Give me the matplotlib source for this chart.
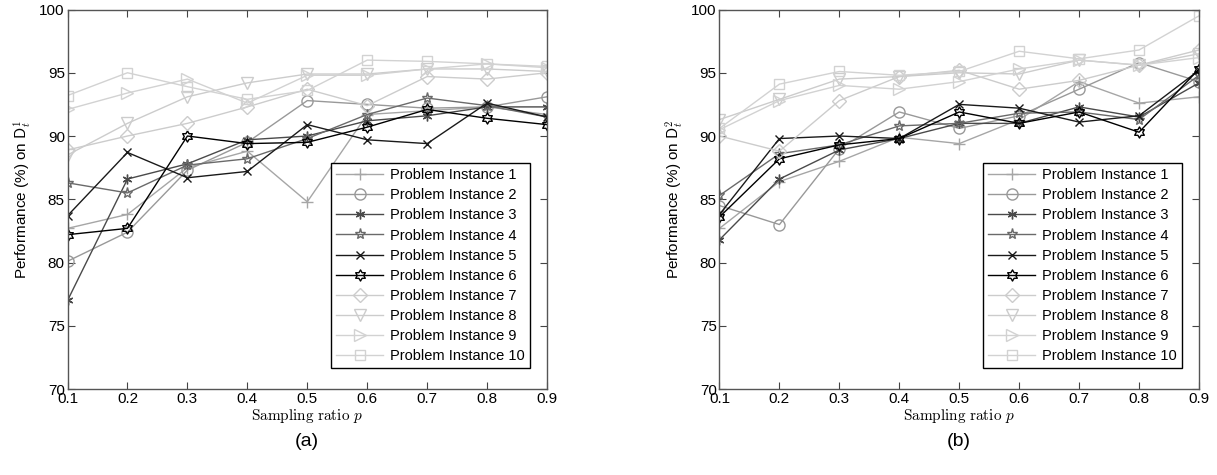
import numpy as np
import matplotlib.pyplot as plt
from matplotlib.path import Path

plt.rcParams['font.family'] = ['Liberation Sans', 'DejaVu Sans']
plt.rcParams['mathtext.fontset'] = 'cm'

p = [0.1, 0.2, 0.3, 0.4, 0.5, 0.6, 0.7, 0.8, 0.9]
names = ['Problem Instance %d' % i for i in range(1, 11)]

# (a) performance on D_t^1
perf_a1 = [82.7, 83.8, 87.5, 88.8, 84.8, 91.7, 92.0, 92.3, 91.7]
perf_a2 = [80.1, 82.4, 87.3, 89.5, 92.8, 92.5, 92.2, 92.3, 93.1]
perf_a3 = [77.0, 86.6, 87.8, 89.7, 90.0, 91.2, 91.6, 92.3, 92.3]
perf_a4 = [86.3, 85.5, 87.7, 88.2, 89.8, 91.7, 93.0, 92.4, 91.5]
perf_a5 = [83.7, 88.7, 86.7, 87.2, 90.9, 89.7, 89.4, 92.6, 91.5]
perf_a6 = [82.2, 82.7, 90.0, 89.4, 89.5, 90.7, 92.1, 91.4, 90.9]
perf_a7 = [88.9, 90.0, 91.0, 92.3, 93.7, 92.4, 94.7, 94.5, 95.0]
perf_a8 = [88.5, 91.0, 93.1, 94.2, 94.9, 94.9, 95.3, 95.3, 95.1]
perf_a9 = [92.1, 93.4, 94.5, 92.6, 94.8, 94.8, 95.3, 95.7, 95.4]
perf_a10 = [93.2, 95.0, 93.9, 92.9, 93.6, 96.0, 95.9, 95.7, 95.5]

# (b) performance on D_t^2
perf_b1 = [82.7, 86.4, 88.0, 89.9, 89.4, 91.3, 94.3, 92.6, 93.1]
perf_b2 = [84.5, 83.0, 89.0, 91.9, 90.6, 91.6, 93.7, 95.8, 94.3]
perf_b3 = [81.8, 86.6, 88.9, 89.8, 91.0, 91.0, 92.3, 91.5, 94.2]
perf_b4 = [85.3, 88.6, 89.3, 90.8, 91.0, 91.8, 91.9, 91.3, 94.8]
perf_b5 = [83.8, 89.8, 90.0, 89.8, 92.5, 92.2, 91.1, 91.6, 95.2]
perf_b6 = [83.6, 88.2, 89.3, 89.8, 91.9, 91.0, 91.9, 90.3, 95.3]
perf_b7 = [90.0, 88.8, 92.8, 94.7, 95.2, 93.7, 94.4, 95.6, 96.8]
perf_b8 = [91.3, 92.9, 94.5, 94.7, 95.0, 94.9, 96.0, 95.6, 96.5]
perf_b9 = [90.5, 92.8, 94.0, 93.7, 94.3, 95.3, 96.0, 95.6, 96.2]
perf_b10 = [90.6, 94.1, 95.1, 94.8, 95.1, 96.7, 96.1, 96.8, 99.5]

data_a = [perf_a1, perf_a2, perf_a3, perf_a4, perf_a5, perf_a6, perf_a7, perf_a8, perf_a9, perf_a10]
data_b = [perf_b1, perf_b2, perf_b3, perf_b4, perf_b5, perf_b6, perf_b7, perf_b8, perf_b9, perf_b10]

# hexagram marker
v = []
for i in range(6):
    a = np.pi / 2 + i * np.pi / 3
    v.append((np.cos(a), np.sin(a)))
    a2 = a + np.pi / 6
    v.append((0.58 * np.cos(a2), 0.58 * np.sin(a2)))
v.append(v[0])
hexagram = Path(v, [Path.MOVETO] + [Path.LINETO] * 11 + [Path.CLOSEPOLY])
asterisk = (6, 2, 0)

colors = ['#a6a6a6', '#999999', '#4a4a4a', '#6a6a6a', '#1a1a1a', '#000000',
          '#cccccc', '#cccccc', '#d2d2d2', '#d2d2d2']
markers = ['+', 'o', asterisk, '*', 'x', hexagram, 'D', 'v', '>', 's']
msizes = [8, 8, 7, 8, 6, 8, 7, 8, 8, 7]

fig = plt.figure(figsize=(12.17, 4.75), dpi=100)
ax_a = fig.add_axes([0.0555, 0.181, 0.394, 0.799])
ax_b = fig.add_axes([0.5912, 0.181, 0.394, 0.799])

for ax, data, sup, lab in [(ax_a, data_a, '1', '(a)'), (ax_b, data_b, '2', '(b)')]:
    for k in range(10):
        ax.plot(p, data[k], color=colors[k], lw=1.0, marker=markers[k], ms=msizes[k],
                mfc='none', mec=colors[k], mew=1.0, label=names[k])
    ax.set_xlim(0.1, 0.9)
    ax.set_ylim(70, 100)
    ax.set_xticks(p)
    ax.set_xticklabels(['%.1f' % x for x in p])
    ax.set_yticks([70, 75, 80, 85, 90, 95, 100])
    ax.tick_params(direction='in', top=True, right=True, labelsize=11, length=5,
                   color='#444444', pad=2)
    for s in ax.spines.values():
        s.set_color('#555555')
        s.set_linewidth(1.0)
    ax.set_xlabel(r'$\mathrm{Sampling\ ratio}\ p$', fontsize=11, labelpad=1)
    ax.set_ylabel('Performance (%%) on $\\mathsf{D}_t^%s$' % sup, fontsize=11, labelpad=4)
    leg = ax.legend(loc='lower right', fontsize=10.5, handlelength=3.2, handletextpad=0.5,
                    labelspacing=0.42, borderpad=0.35, fancybox=False, framealpha=1,
                    edgecolor='black', bbox_to_anchor=(0.98, 0.035))
    leg.get_frame().set_linewidth(1.0)
    ax.text(0.5, -0.115, lab, transform=ax.transAxes, ha='center', va='top', fontsize=14)

fig.savefig('out.png', dpi=100)
